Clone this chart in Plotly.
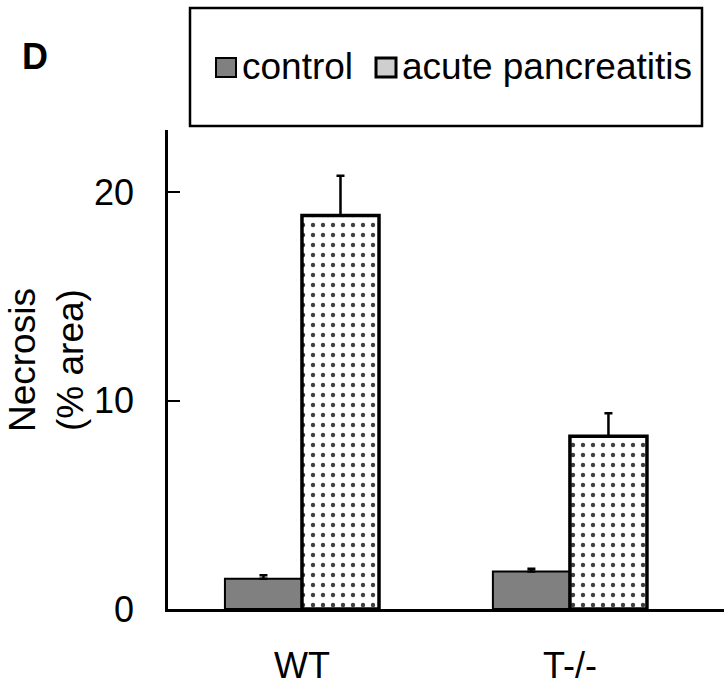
import plotly.graph_objects as go

groups = ["WT", "T-/-"]
control_vals = [1.45, 1.8]
control_err = [0.17, 0.13]
ap_vals = [18.9, 8.3]
ap_err = [1.9, 1.1]
y_ticks = [0, 10, 20]

FONT = "Liberation Sans, Arial, sans-serif"

# plot area in pixels (left, right, top, bottom)
L, R, T, B = 168, 724, 130, 609


def px(x, y):
    # pixel position -> paper coordinates
    return (x - L) / (R - L), (B - y) / (B - T)


fig = go.Figure()

fig.add_trace(go.Bar(
    x=groups, y=control_vals, name="control", showlegend=False,
    marker=dict(color="#808080", line=dict(color="black", width=2)),
    error_y=dict(type="data", array=control_err, arrayminus=[0, 0], symmetric=False,
                 color="black", thickness=2.5, width=4),
))

fig.add_trace(go.Bar(
    x=groups, y=ap_vals, name="acute pancreatitis", showlegend=False,
    marker=dict(color="white", line=dict(color="black", width=3.5),
                pattern=dict(shape=".", fgcolor="#404040", bgcolor="white",
                             size=10, solidity=0.15, fillmode="replace")),
    error_y=dict(type="data", array=ap_err, arrayminus=[0, 0], symmetric=False,
                 color="black", thickness=2.5, width=4),
))

fig.update_layout(
    width=724, height=685,
    margin=dict(l=L, r=724 - R, t=T, b=685 - B),
    paper_bgcolor="white", plot_bgcolor="white",
    barmode="group", bargap=0.425, bargroupgap=0,
    font=dict(family=FONT, size=36, color="black"),
    showlegend=False,
)

fig.update_xaxes(
    range=[-0.5, 1.575], showline=True, linecolor="black", linewidth=2.5,
    ticks="", showgrid=False, ticklabelstandoff=23,
    tickfont=dict(size=36),
)
fig.update_yaxes(
    range=[0, 23], showline=True, linecolor="black", linewidth=2.5,
    ticks="inside", ticklen=12, tickwidth=2, tickcolor="black",
    tickvals=y_ticks, showgrid=False, zeroline=False,
    ticklabelstandoff=24, tickfont=dict(size=36),
)

# legend drawn by hand to match the framed legend of the original
x0, y0 = px(190, 126)
x1, y1 = px(702, 8)
fig.add_shape(type="rect", xref="paper", yref="paper", x0=x0, x1=x1, y0=y0, y1=y1,
              line=dict(color="black", width=2.5), fillcolor="rgba(0,0,0,0)")

x0, y0 = px(216, 77)
x1, y1 = px(236, 58)
fig.add_shape(type="rect", xref="paper", yref="paper", x0=x0, x1=x1, y0=y0, y1=y1,
              line=dict(color="black", width=2), fillcolor="#808080")
x0, y0 = px(376, 77)
x1, y1 = px(396, 58)
fig.add_shape(type="rect", xref="paper", yref="paper", x0=x0, x1=x1, y0=y0, y1=y1,
              line=dict(color="black", width=3), fillcolor="#cfcfcf")

ax, ay = px(240, 67)
fig.add_annotation(text="control", xref="paper", yref="paper", x=ax, y=ay,
                   xanchor="left", yanchor="middle", showarrow=False, font=dict(size=37))
ax, ay = px(400, 67)
fig.add_annotation(text="acute pancreatitis", xref="paper", yref="paper", x=ax, y=ay,
                   xanchor="left", yanchor="middle", showarrow=False, font=dict(size=37))

ax, ay = px(34.5, 56.5)
fig.add_annotation(text="<b>D</b>", xref="paper", yref="paper", x=ax, y=ay,
                   xanchor="center", yanchor="middle", showarrow=False, font=dict(size=36))

ax, ay = px(46, 360)
fig.add_annotation(text="Necrosis<br>(% area)", xref="paper", yref="paper",
                   x=ax, y=ay, xanchor="center", yanchor="middle", textangle=-90,
                   showarrow=False, font=dict(size=37))

fig.write_html("out.html", config={"displayModeBar": False},
               post_script="document.body.style.margin = '0';")
